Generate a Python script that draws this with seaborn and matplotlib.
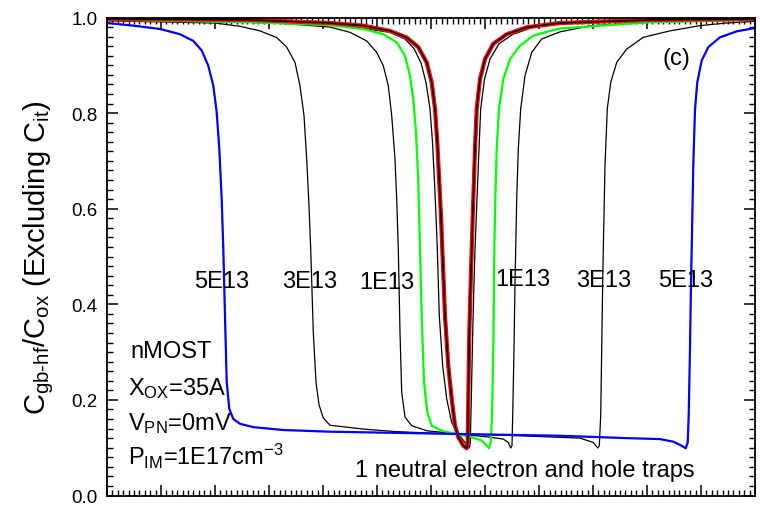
import matplotlib
matplotlib.use("Agg")
import matplotlib.pyplot as plt
from matplotlib.ticker import MultipleLocator, NullFormatter
import seaborn as sns
import pandas as pd

# Gate-bias axis (arbitrary units, no labels drawn) and normalised HF capacitance
# Blue: 5E13 traps
blue_x = [-6.0, -5.513, -5.019, -4.648, -4.402, -4.246, -4.124, -4.031, -3.969, -3.920,
          -3.876, -3.846, -3.815, -3.783, -3.735, -3.661, -3.537, -3.291, -2.735, -1.870,
          0.352, 2.389, 3.624, 4.241, 4.487, 4.643, 4.717, 4.754, 4.772, 4.796,
          4.815, 4.828, 4.857, 4.889, 4.931, 5.013, 5.135, 5.352, 5.661, 6.0]
blue_y = [0.9885, 0.983, 0.976, 0.965, 0.951, 0.931, 0.899, 0.857, 0.802, 0.725,
          0.620, 0.516, 0.376, 0.237, 0.181, 0.160, 0.150, 0.143, 0.137, 0.1335,
          0.129, 0.125, 0.120, 0.118, 0.1126, 0.104, 0.0988, 0.111, 0.167, 0.306,
          0.446, 0.516, 0.690, 0.808, 0.864, 0.910, 0.938, 0.9586, 0.971, 0.978]

# Black: 3E13 traps
t3_px = [107, 215, 240, 260, 276.7, 286.7, 295, 300, 304, 306.7, 309, 310.7, 313.3, 316,
         319, 323.3, 330, 363.3, 396.7, 450, 520, 580, 593.3, 597.7, 599.3, 600.7, 601.7,
         602.7, 603.3, 605, 607.3, 610.7, 616.7, 626.7, 643.3, 670, 700, 726.7, 755]
t3_y = [0.993, 0.9885, 0.9815, 0.972, 0.958, 0.938, 0.906, 0.857, 0.795, 0.704, 0.606,
        0.516, 0.341, 0.237, 0.19, 0.162, 0.147, 0.139, 0.1335, 0.129, 0.125, 0.120,
        0.111, 0.0994, 0.104, 0.167, 0.306, 0.446, 0.516, 0.690, 0.809, 0.864, 0.906,
        0.934, 0.9586, 0.972, 0.983, 0.9885, 0.992]

# Black: 1E13 traps
t1_px = [107, 215, 280, 330, 350, 366.7, 376.7, 383.3, 388.3, 391.7, 395, 396.7, 398.3,
         400, 401.7, 405, 411.7, 426.7, 456.7, 490, 503.3, 508.3, 510.7, 512, 512.7, 514,
         515, 515.7, 516.7, 518.3, 520.7, 525, 531.7, 541.7, 560, 591.7, 650, 755]
t1_y = [0.995, 0.992, 0.988, 0.980, 0.969, 0.951, 0.927, 0.899, 0.857, 0.795, 0.704,
        0.620, 0.516, 0.341, 0.216, 0.164, 0.146, 0.1355, 0.129, 0.122, 0.118, 0.111,
        0.0994, 0.104, 0.167, 0.306, 0.446, 0.516, 0.620, 0.725, 0.809, 0.878, 0.927,
        0.955, 0.970, 0.983, 0.990, 0.995]

# Green
gr_px = [107, 250, 330, 363.3, 383.3, 396.7, 405, 410, 413.3, 416, 418.3, 420, 421.7, 424,
         427.3, 431.7, 441.7, 455, 470, 481.7, 486.7, 489, 490.7, 492, 493.3, 494, 494.3,
         495.3, 496.7, 499, 503.3, 510, 520, 533.3, 550, 560, 650, 755]
gr_y = [0.995, 0.990, 0.984, 0.976, 0.965, 0.948, 0.920, 0.878, 0.829, 0.760, 0.655,
        0.516, 0.376, 0.237, 0.174, 0.146, 0.1355, 0.129, 0.123, 0.115, 0.104, 0.0994,
        0.111, 0.167, 0.306, 0.446, 0.516, 0.620, 0.725, 0.809, 0.871, 0.913, 0.941,
        0.962, 0.972, 0.977, 0.990, 0.995]

# Red (with black overlay of the same curve)
rd_px = [107, 250, 330, 363.3, 390, 406.7, 418.3, 426.7, 431.7, 435, 437.3, 439.3, 441,
         442.3, 445, 448.3, 451.7, 455, 458.3, 463.3, 466.7, 467.7, 468.3, 469.3, 470.7,
         471.7, 473.3, 475, 476.7, 480, 485, 493.3, 506.7, 526.7, 560, 650, 755]
rd_y = [0.997, 0.995, 0.9885, 0.983, 0.972, 0.958, 0.938, 0.906, 0.864, 0.809, 0.739,
        0.655, 0.585, 0.516, 0.376, 0.271, 0.202, 0.146, 0.122, 0.104, 0.0988, 0.111,
        0.202, 0.341, 0.446, 0.516, 0.620, 0.725, 0.809, 0.871, 0.913, 0.945, 0.965,
        0.9795, 0.9885, 0.995, 0.997]

# Thin black, no traps
b0_px = [107, 330, 390, 405, 414, 421, 426, 430, 432.5, 434.5, 436, 437.3, 439.3, 442.7,
         446.7, 451.7, 458.3, 465, 469.3, 470.3, 471.3, 472.7, 474, 475, 477, 479, 480.7,
         484.5, 490, 499, 513, 533, 565, 650, 755]
b0_y = [0.997, 0.987, 0.969, 0.955, 0.935, 0.905, 0.864, 0.809, 0.739, 0.655, 0.585,
        0.516, 0.376, 0.271, 0.202, 0.153, 0.129, 0.111, 0.0994, 0.111, 0.202, 0.341,
        0.446, 0.516, 0.620, 0.725, 0.809, 0.871, 0.913, 0.945, 0.965, 0.9795, 0.9885,
        0.995, 0.997]


def to_bias(px):
    return [(p - 431) / 54 for p in px]


sns.set_theme(style="ticks")
plt.rcParams["font.family"] = ["Liberation Sans", "DejaVu Sans"]
plt.rcParams["mathtext.fontset"] = "custom"
plt.rcParams["mathtext.rm"] = "Liberation Sans"
plt.rcParams["mathtext.it"] = "Liberation Sans:italic"
plt.rcParams["mathtext.bf"] = "Liberation Sans:bold"
for key in ["text.color", "axes.labelcolor", "xtick.color", "ytick.color",
            "axes.edgecolor"]:
    plt.rcParams[key] = "black"

fig = plt.figure(figsize=(7.6, 5.06), dpi=100)
ax = fig.add_axes([107 / 760, 1 - 496.5 / 506, 648 / 760, 478 / 506])

series = [
    (to_bias(t3_px), t3_y, "black", 0.9),
    (to_bias(t1_px), t1_y, "black", 0.9),
    (to_bias(b0_px), b0_y, "black", 0.9),
    (to_bias(gr_px), gr_y, "#00ff00", 1.6),
    (to_bias(rd_px), rd_y, "#ff0000", 3.0),
    (to_bias(rd_px), rd_y, "black", 1.1),
    (blue_x, blue_y, "#0000ff", 1.6),
]
for xs, ys, col, lw in series:
    df = pd.DataFrame({"v": xs, "c": ys})
    sns.lineplot(data=df, x="v", y="c", ax=ax, color=col, linewidth=lw,
                 estimator=None, sort=False)

ax.set_xlim(-6, 6)
ax.set_ylim(0, 1.0)
ax.xaxis.set_major_locator(MultipleLocator(1))
ax.xaxis.set_minor_locator(MultipleLocator(0.1))
ax.yaxis.set_major_locator(MultipleLocator(0.2))
ax.yaxis.set_minor_locator(MultipleLocator(0.02))
ax.xaxis.set_major_formatter(NullFormatter())
ax.set_yticks([0.0, 0.2, 0.4, 0.6, 0.8, 1.0])
ax.set_yticklabels(["0.0", "0.2", "0.4", "0.6", "0.8", "1.0"])
ax.tick_params(which="both", direction="in", top=True, right=True, color="black")
ax.tick_params(which="major", length=8, width=1.1, labelsize=13.5, pad=7)
ax.tick_params(which="minor", length=4.5, width=1.0)
for s in ax.spines.values():
    s.set_linewidth(1.3)
    s.set_color("black")
ax.set_xlabel("")
ax.set_ylabel(r"C$_{\mathrm{gb‐hf}}$/C$_{\mathrm{ox}}$ (Excluding C$_{\mathrm{it}}$)",
              fontsize=21, color="black")
ax.yaxis.set_label_coords(-0.079, 0.5)

fs = 17
for x, y, s in [(-3.87, 0.436, "5E13"), (-2.24, 0.436, "3E13"), (-0.824, 0.434, "1E13"),
                (1.70, 0.440, "1E13"), (3.20, 0.438, "3E13"), (4.72, 0.438, "5E13")]:
    ax.text(x, y, s, ha="center", va="baseline", fontsize=fs)
ax.text(4.54, 0.903, "(c)", ha="center", va="baseline", fontsize=fs)

ax.text(-5.574, 0.290, "nMOST", ha="left", va="baseline", fontsize=fs)
ax.text(-5.61, 0.213, r"X$_{\mathrm{OX}}$=35A", ha="left", va="baseline", fontsize=fs)
ax.text(-5.61, 0.139, r"V$_{\mathrm{PN}}$=0mV", ha="left", va="baseline", fontsize=fs)
ax.text(-5.61, 0.066, r"P$_{\mathrm{IM}}$=1E17cm$^{-3}$", ha="left", va="baseline", fontsize=fs)
ax.text(-1.407, 0.0414, "1 neutral electron and hole traps", ha="left", va="baseline",
        fontsize=fs)

fig.savefig("out.png", dpi=100)
